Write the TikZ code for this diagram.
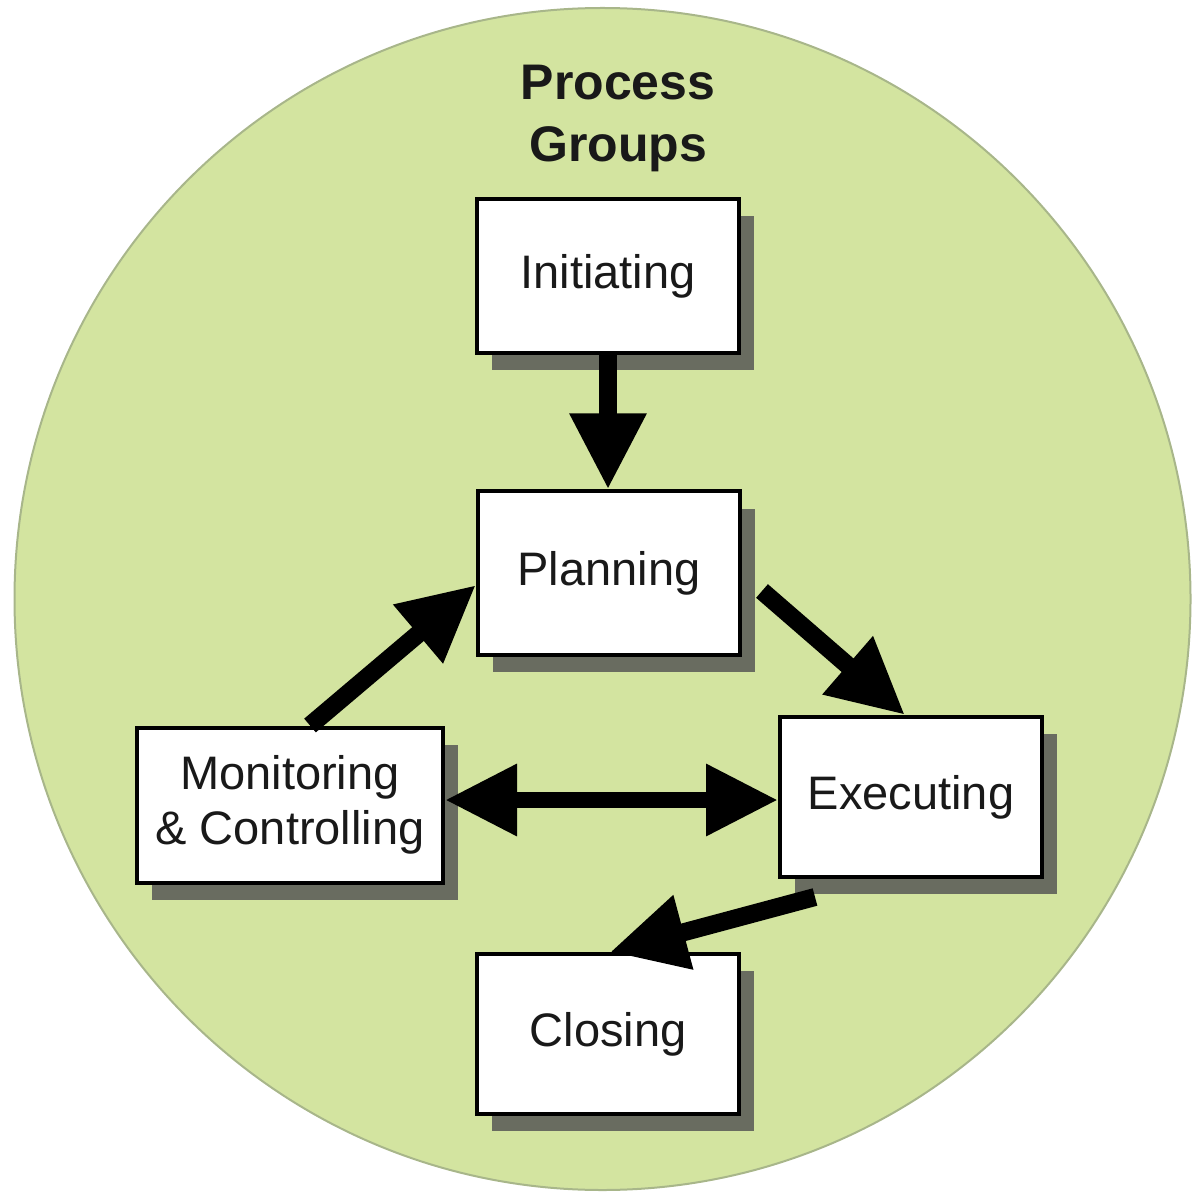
\documentclass[tikz,border=0pt]{standalone}
\usepackage{fontspec}
\setmainfont{Liberation Sans}
\usetikzlibrary{arrows.meta,shadows}
\definecolor{circfill}{RGB}{211,228,160}
\definecolor{circline}{RGB}{168,182,138}
\definecolor{shadowc}{RGB}{105,108,96}
\definecolor{textc}{RGB}{25,25,25}
\begin{document}
\begin{tikzpicture}[x=0.5bp,y=-0.5bp,
  pbox/.style={draw=black, line width=2bp, fill=white, minimum width=131bp,
    minimum height=80bp, align=center,
    font=\fontsize{23.5bp}{27.5bp}\selectfont, text=textc,
    drop shadow={shadow xshift=7.5bp, shadow yshift=-8.5bp, fill=shadowc, opacity=1}},
  flow/.style={line width=9bp, -{Triangle[length=38bp,width=36bp]}},
  bothflow/.style={line width=8bp, {Triangle[length=36bp,width=34bp]}-{Triangle[length=36bp,width=34bp]}},
  title/.style={font=\bfseries\fontsize{25bp}{31bp}\selectfont, align=center, text=textc}
]
\useasboundingbox (0,0) rectangle (1195,1192);
\filldraw[fill=circfill, draw=circline, line width=1bp] (602.5,599) ellipse [x radius=588, y radius=591];

\node[title] (ttl) at (618,118) {Process\\Groups};

\node[pbox, minimum height=77bp] (init) at (608,276) {Initiating};
\node[pbox, minimum height=81.5bp] (plan) at (609,573) {Planning};
\node[pbox, minimum width=153bp, minimum height=77.5bp] (mon) at (290,805) {Monitoring\\\& Controlling};
\node[pbox] (exec) at (911,797) {Executing};
\node[pbox] (close) at (608,1034) {Closing};

\draw[flow] (init.south) -- (init.south |- plan.north);
\draw[flow] ([xshift=10bp]mon.north) -- ([yshift=-6bp]plan.west);
\draw[flow] ([xshift=10bp,yshift=-9bp]plan.east) -- ([xshift=-3bp]exec.north);
\coordinate (ml) at ([yshift=2.5bp]mon.east);
\coordinate (er) at (ml -| exec.west);
\draw[bothflow] (ml) -- (er);
\draw[flow] ([xshift=-48bp,yshift=-9bp]exec.south) -- ([xshift=1bp]close.north);
\end{tikzpicture}
\end{document}
